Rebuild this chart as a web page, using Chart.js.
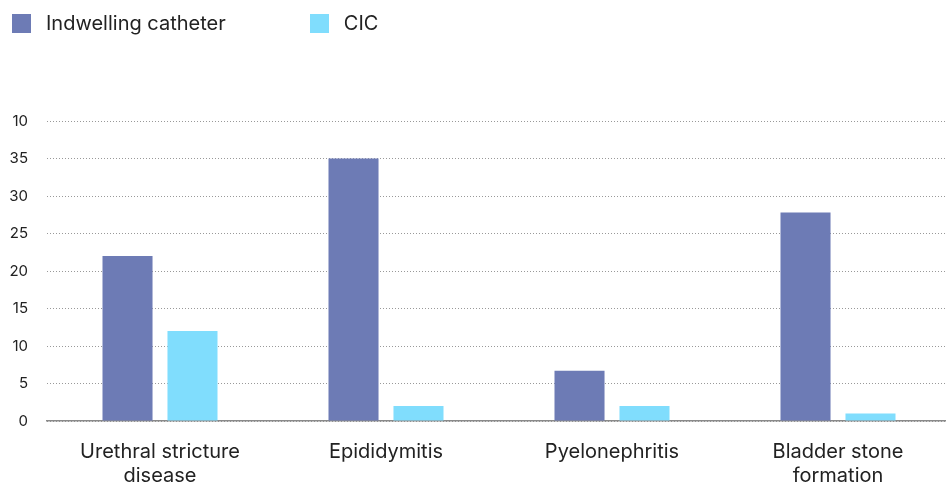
<!DOCTYPE html>
<html>
<head>
<meta charset="utf-8">
<script src="https://cdn.jsdelivr.net/npm/chart.js@4/dist/chart.umd.min.js"></script>
<style>
  html, body { margin: 0; padding: 0; background: #fff; overflow: hidden; }
  #wrap { position: relative; width: 946px; height: 483px; overflow: hidden; }
  #legend { position: absolute; left: 12px; top: 11px; display: flex; font-family: Inter, "Liberation Sans", sans-serif; font-size: 20px; color: #222; z-index: 2; }
  .item { display: flex; align-items: center; }
  .sw { width: 19px; height: 19px; margin-right: 15px; }
  canvas { position: absolute; left: 0; top: 0; }
</style>
</head>
<body>
<div id="wrap">
  <div id="legend"></div>
  <canvas id="c" width="951" height="483"></canvas>
</div>
<script>
const categories = [["Urethral stricture", "disease"], "Epididymitis", "Pyelonephritis", ["Bladder stone", "formation"]];
const seriesNames = ["Indwelling catheter", "CIC"];
const indwelling = [22, 35, 6.7, 27.8];
const cic = [12, 2, 2, 1];
const yTickValues = [0, 5, 10, 15, 20, 25, 30, 35, 40];
const yTickLabels = ["0", "5", "10", "15", "20", "25", "30", "35", "10"];
const colors = ["#6d7bb5", "#80ddfd"];

const legend = document.getElementById('legend');
seriesNames.forEach((n, i) => {
  const it = document.createElement('div');
  it.className = 'item';
  it.style.marginRight = i === 0 ? '84px' : '0';
  const sw = document.createElement('div');
  sw.className = 'sw';
  sw.style.background = colors[i];
  const t = document.createElement('span');
  t.textContent = n;
  it.appendChild(sw); it.appendChild(t);
  legend.appendChild(it);
});

const ctx = document.getElementById('c');
new Chart(ctx, {
  type: 'bar',
  data: {
    labels: categories,
    datasets: [
      { label: seriesNames[0], data: indwelling, backgroundColor: colors[0], categoryPercentage: 0.575, barPercentage: 0.77 },
      { label: seriesNames[1], data: cic, backgroundColor: colors[1], categoryPercentage: 0.575, barPercentage: 0.77 }
    ]
  },
  options: {
    responsive: false,
    animation: false,
    devicePixelRatio: 1,
    layout: { padding: { top: 121, right: 0, left: 0, bottom: 0 } },
    plugins: { legend: { display: false }, tooltip: { enabled: false } },
    scales: {
      x: {
        grid: { display: false, drawTicks: false },
        border: { display: true, color: '#8a8a8a', width: 1.5 },
        ticks: { color: '#222', font: { family: 'Inter', size: 20 }, padding: 19, maxRotation: 0, autoSkip: false },
        afterFit: (s) => { s.height = 62; }
      },
      y: {
        min: 0, max: 40,
        afterBuildTicks: (s) => { s.ticks = yTickValues.map(v => ({ value: v })); },
        grid: { color: '#999999', drawTicks: false, lineWidth: 1 },
        border: { display: false, dash: [1, 2] },
        ticks: {
          color: '#222', font: { family: 'Inter', size: 15 }, padding: 19,
          callback: (v) => yTickLabels[yTickValues.indexOf(v)]
        },
        afterFit: (s) => { s.width = 47; }
      }
    }
  }
});
</script>
</body>
</html>
